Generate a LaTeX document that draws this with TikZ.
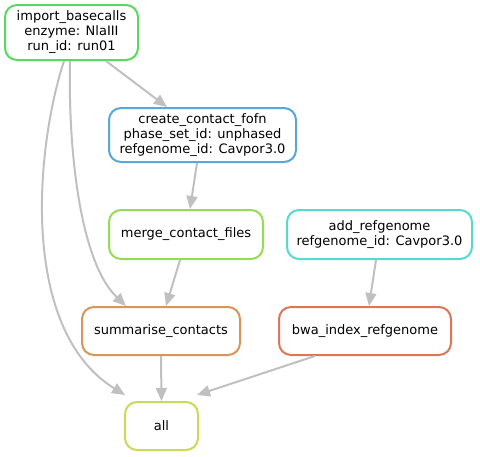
\documentclass[tikz,border=0pt]{standalone}
\usepackage{fontspec}
\setmainfont{DejaVu Sans}
\usetikzlibrary{arrows.meta}
\definecolor{cimp}{RGB}{89,217,95}
\definecolor{ccre}{RGB}{87,167,217}
\definecolor{cmer}{RGB}{152,217,87}
\definecolor{cadd}{RGB}{87,217,208}
\definecolor{csum}{RGB}{217,149,87}
\definecolor{cbwa}{RGB}{217,119,87}
\definecolor{call}{RGB}{203,217,87}
\definecolor{edgec}{RGB}{192,192,192}
\tikzset{
  rule/.style={draw=#1, line width=2pt, rounded corners=12pt, fill=white,
    align=center, inner sep=0pt, font=\fontsize{13pt}{15pt}\selectfont},
  conn/.style={draw=edgec, line width=2pt, -{Triangle[length=13pt,width=11pt]}},
}
\begin{document}
\begin{tikzpicture}[x=1pt,y=-1pt]
\useasboundingbox (0,0) rectangle (480,456);
\node[rule=cimp, minimum width=133pt, minimum height=55pt] (imp) at (71.5,32.5) {import\_basecalls\\enzyme: NlaIII\\run\_id: run01};
\node[rule=ccre, minimum width=187pt, minimum height=54pt] (cre) at (202.5,135) {create\_contact\_fofn\\phase\_set\_id: unphased\\refgenome\_id: Cavpor3.0};
\node[rule=cmer, minimum width=154pt, minimum height=49pt] (mer) at (186,234.5) {merge\_contact\_files};
\node[rule=cadd, minimum width=185pt, minimum height=49pt] (add) at (379.5,234.5) {add\_refgenome\\refgenome\_id: Cavpor3.0};
\node[rule=csum, minimum width=158pt, minimum height=48pt] (sum) at (161,331) {summarise\_contacts};
\node[rule=cbwa, minimum width=172pt, minimum height=48pt] (bwa) at (365,331) {bwa\_index\_refgenome};
\node[rule=call, minimum width=73pt, minimum height=48pt] (all) at (161.5,426) {all};

\draw[conn] ([xshift=34.5pt]imp.south) -- ([xshift=-35.5pt]cre.north);
\draw[conn] ([xshift=-1.5pt]imp.south) .. controls (68,150) and (80,262) .. ([xshift=-35pt]sum.north);
\draw[conn] ([xshift=-7.5pt]imp.south) .. controls (35,150) and (20,330) .. ([xshift=1pt,yshift=6pt]all.north west);
\draw[conn] ([xshift=-5.5pt]cre.south) -- ([xshift=4pt]mer.north);
\draw[conn] ([xshift=-6pt]mer.south) -- ([xshift=5pt]sum.north);
\draw[conn] ([xshift=-3.5pt]add.south) -- ([xshift=4pt]bwa.north);
\draw[conn] (sum.south) -- (all.north);
\draw[conn] ([xshift=-50pt]bwa.south) -- ([xshift=-2pt,yshift=6pt]all.north east);
\end{tikzpicture}
\end{document}
